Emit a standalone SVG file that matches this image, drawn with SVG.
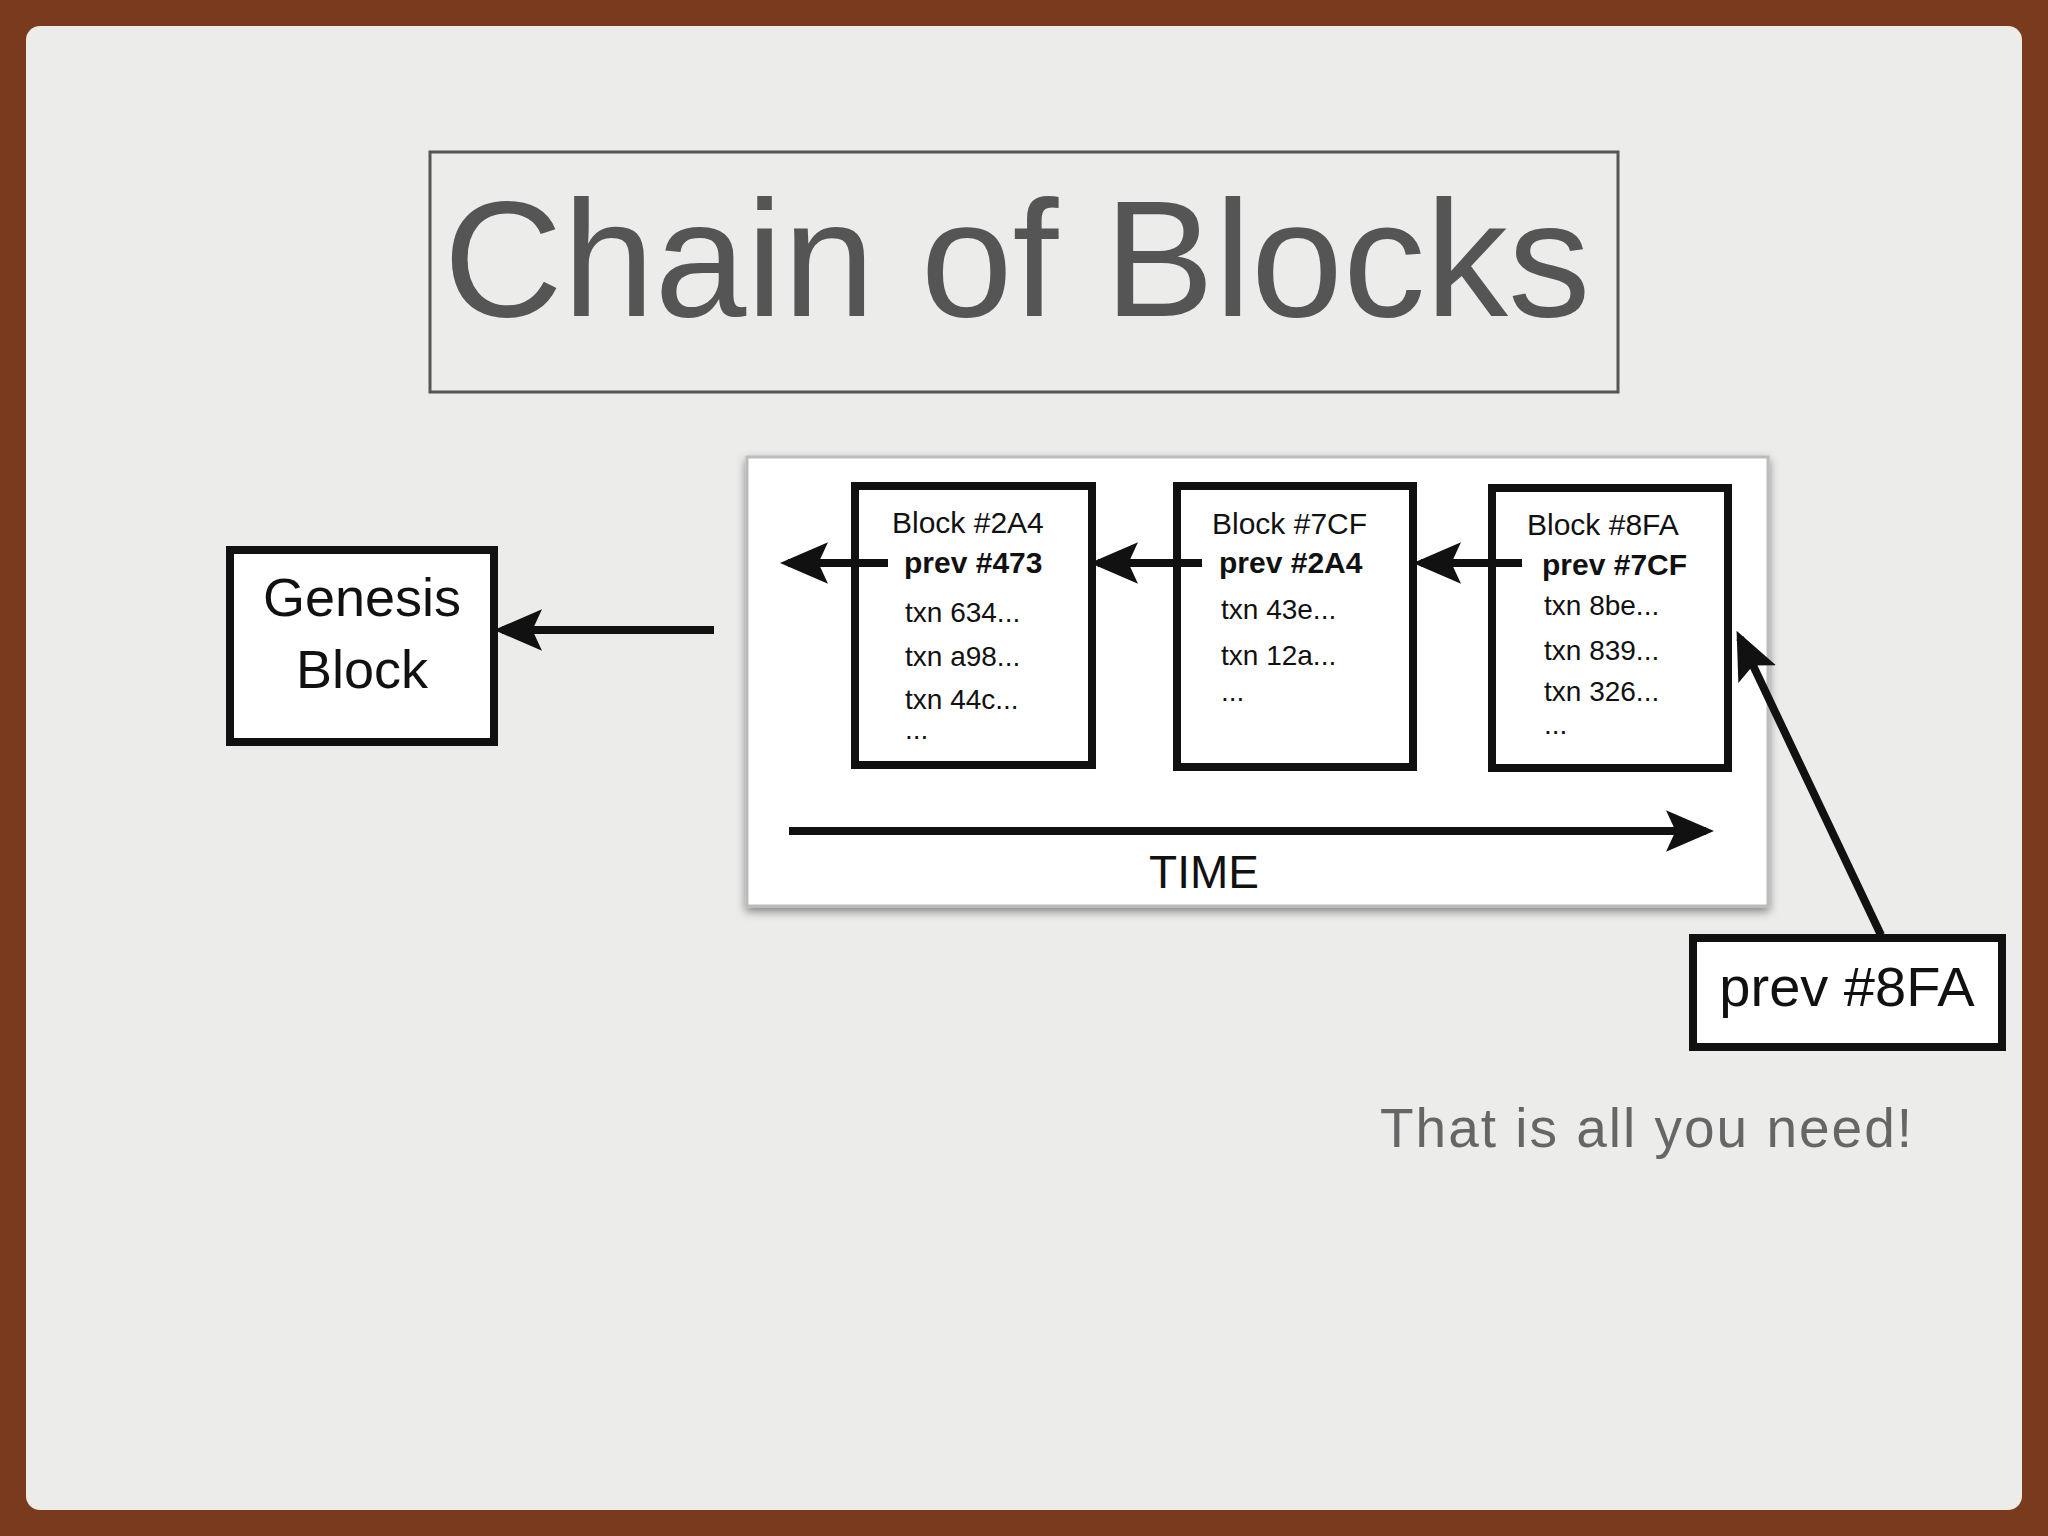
<svg xmlns="http://www.w3.org/2000/svg" width="2048" height="1536" viewBox="0 0 2048 1536">
<defs>
<style>
text{font-family:'Liberation Sans',Arial,Helvetica,sans-serif}
.s{fill:#111}
.b{fill:#fff;stroke:#111;stroke-width:8}
.ln{stroke:#111;stroke-width:8;fill:none}
</style>
<marker id="ah" markerWidth="6" markerHeight="6" refX="5" refY="3" orient="auto" markerUnits="strokeWidth"><path d="M0,0.4 L6,3 L0,5.6 L1.2,3 Z" fill="#111"/></marker>
<filter id="sh" x="-5%" y="-5%" width="110%" height="115%"><feDropShadow dx="0" dy="4" stdDeviation="5" flood-color="#000" flood-opacity="0.45"/></filter>
</defs>
<rect width="2048" height="1536" fill="#7a3a1e"/>
<rect x="26" y="26" width="1996" height="1484" rx="14" fill="#ececea"/>
<g id="title">
<rect x="430" y="152" width="1188" height="240" fill="none" stroke="#555" stroke-width="3"/>
<text x="1017" y="316" text-anchor="middle" font-size="165" fill="#555" textLength="1147">Chain of Blocks</text>
</g>
<g id="panel">
<rect x="747" y="457" width="1021" height="449" fill="#fff" stroke="#bbb" stroke-width="3" filter="url(#sh)"/>
</g>
<g id="block1">
<rect class="b" x="855" y="486" width="237" height="279"/>
<text class="s" font-size="30" x="892" y="533">Block #2A4</text>
<text class="s" font-size="30" font-weight="bold" x="904" y="573">prev #473</text>
<text class="s" font-size="28" x="905" y="622">txn 634...</text>
<text class="s" font-size="28" x="905" y="666">txn a98...</text>
<text class="s" font-size="28" x="905" y="709">txn 44c...</text>
<text class="s" font-size="28" x="905" y="739">...</text>
</g>
<g id="block2">
<rect class="b" x="1177" y="486" width="236" height="281"/>
<text class="s" font-size="30" x="1212" y="534">Block #7CF</text>
<text class="s" font-size="30" font-weight="bold" x="1219" y="573">prev #2A4</text>
<text class="s" font-size="28" x="1221" y="619">txn 43e...</text>
<text class="s" font-size="28" x="1221" y="665">txn 12a...</text>
<text class="s" font-size="28" x="1221" y="701">...</text>
</g>
<g id="block3">
<rect class="b" x="1492" y="488" width="236" height="280"/>
<text class="s" font-size="30" x="1527" y="535">Block #8FA</text>
<text class="s" font-size="30" font-weight="bold" x="1542" y="575">prev #7CF</text>
<text class="s" font-size="28" x="1544" y="615">txn 8be...</text>
<text class="s" font-size="28" x="1544" y="660">txn 839...</text>
<text class="s" font-size="28" x="1544" y="701">txn 326...</text>
<text class="s" font-size="28" x="1544" y="734">...</text>
</g>
<g id="time">
<text class="s" font-size="46" x="1204" y="888" text-anchor="middle">TIME</text>
</g>
<g id="genesis">
<rect class="b" x="230" y="550" width="264" height="192"/>
<text class="s" font-size="54" x="362" y="616" text-anchor="middle">Genesis</text>
<text class="s" font-size="54" x="362" y="688" text-anchor="middle">Block</text>
</g>
<g id="prev8fa">
<rect class="b" x="1693" y="938" width="309" height="109"/>
<text class="s" font-size="56" x="1847" y="1006" text-anchor="middle">prev #8FA</text>
</g>
<g id="note">
<text font-size="55" fill="#666" x="1380" y="1147" textLength="532">That is all you need!</text>
</g>
<g id="connectors">
<line class="ln" stroke-width="5" x1="888" y1="563" x2="788" y2="563" marker-end="url(#ah)"/>
<line class="ln" stroke-width="5" x1="1202" y1="563" x2="1098" y2="563" marker-end="url(#ah)"/>
<line class="ln" stroke-width="5" x1="1522" y1="563" x2="1421" y2="563" marker-end="url(#ah)"/>
<line class="ln" stroke-width="9" x1="789" y1="831" x2="1706" y2="831" marker-end="url(#ah)"/>
<line class="ln" stroke-width="8" x1="714" y1="630" x2="502" y2="630" marker-end="url(#ah)"/>
<line class="ln" stroke-width="7" x1="1881" y1="935" x2="1740" y2="638" marker-end="url(#ah)"/>
</g>
</svg>
